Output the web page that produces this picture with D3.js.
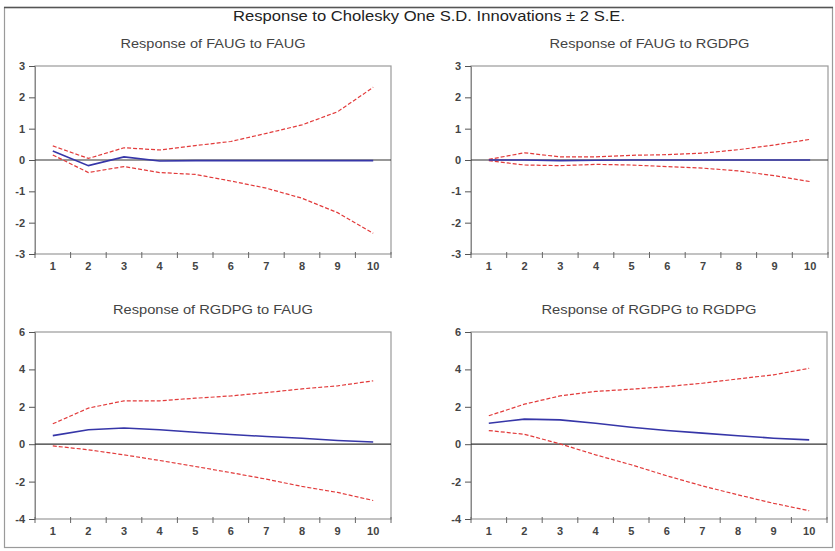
<!DOCTYPE html>
<html>
<head>
<meta charset="utf-8">
<script src="https://cdn.jsdelivr.net/npm/d3@7"></script>
<style>
  body { margin: 0; background: #fff; }
  text { font-family: "Liberation Sans", Arial, sans-serif; }
</style>
</head>
<body>
<div id="chart"></div>
<script>
var periods = [1, 2, 3, 4, 5, 6, 7, 8, 9, 10];
var mainTitle = "Response to Cholesky One S.D. Innovations \u00b1 2 S.E.";

// response of FAUG to FAUG
var faugFaug = [0.29, -0.18, 0.10, -0.03, -0.02, -0.02, -0.02, -0.02, -0.02, -0.02];
var faugFaugUp = [0.45, 0.05, 0.39, 0.32, 0.46, 0.59, 0.85, 1.12, 1.54, 2.32];
var faugFaugLo = [0.16, -0.40, -0.21, -0.40, -0.46, -0.67, -0.90, -1.22, -1.68, -2.34];

// response of FAUG to RGDPG
var faugRgdp = [0.0, 0.0, -0.02, -0.01, 0.0, 0.0, 0.0, 0.0, 0.0, 0.0];
var faugRgdpUp = [0.02, 0.23, 0.10, 0.10, 0.15, 0.17, 0.22, 0.33, 0.48, 0.66];
var faugRgdpLo = [-0.02, -0.16, -0.18, -0.14, -0.16, -0.21, -0.26, -0.35, -0.50, -0.69];

// response of RGDPG to FAUG
var rgdpFaug = [0.46, 0.77, 0.87, 0.77, 0.64, 0.52, 0.41, 0.32, 0.20, 0.12];
var rgdpFaugUp = [1.09, 1.93, 2.32, 2.32, 2.46, 2.58, 2.76, 2.96, 3.12, 3.39];
var rgdpFaugLo = [-0.09, -0.30, -0.57, -0.87, -1.19, -1.52, -1.87, -2.26, -2.58, -3.01];

// response of RGDPG to RGDPG
var rgdpRgdp = [1.12, 1.34, 1.30, 1.12, 0.91, 0.73, 0.59, 0.45, 0.32, 0.23];
var rgdpRgdpUp = [1.52, 2.14, 2.58, 2.82, 2.94, 3.08, 3.26, 3.49, 3.71, 4.06];
var rgdpRgdpLo = [0.73, 0.53, 0.02, -0.57, -1.10, -1.69, -2.23, -2.71, -3.16, -3.56];

var topTicks = [-3, -2, -1, 0, 1, 2, 3];
var bottomTicks = [-4, -2, 0, 2, 4, 6];

var panels = [
  {title: "Response of FAUG to FAUG", mid: faugFaug, up: faugFaugUp, lo: faugFaugLo, ticks: topTicks,
   x0: 35, x1: 391, y0: 66, y1: 254, tw: 185},
  {title: "Response of FAUG to RGDPG", mid: faugRgdp, up: faugRgdpUp, lo: faugRgdpLo, ticks: topTicks,
   x0: 471, x1: 828, y0: 66, y1: 254, tw: 200},
  {title: "Response of RGDPG to FAUG", mid: rgdpFaug, up: rgdpFaugUp, lo: rgdpFaugLo, ticks: bottomTicks,
   x0: 35, x1: 391, y0: 332, y1: 519, tw: 200},
  {title: "Response of RGDPG to RGDPG", mid: rgdpRgdp, up: rgdpRgdpUp, lo: rgdpRgdpLo, ticks: bottomTicks,
   x0: 471, x1: 827, y0: 332, y1: 519, tw: 215}
];

var W = 835, H = 551;
var svg = d3.select("#chart").append("svg")
  .attr("width", W).attr("height", H);

// outer frame
svg.append("rect")
  .attr("x", 4.5).attr("y", 7.5)
  .attr("width", 828).attr("height", 540)
  .attr("fill", "none").attr("stroke", "#9a9a9a").attr("stroke-width", 1.2);
svg.append("line")
  .attr("x1", 4).attr("x2", 833).attr("y1", 7.5).attr("y2", 7.5)
  .attr("stroke", "#555").attr("stroke-width", 1.5);

svg.append("text")
  .attr("x", 429).attr("y", 21)
  .attr("text-anchor", "middle")
  .attr("font-size", 14)
  .attr("textLength", 392).attr("lengthAdjust", "spacingAndGlyphs")
  .attr("fill", "#222")
  .text(mainTitle);

panels.forEach(function(p) {
  var g = svg.append("g");
  var band = d3.scaleBand().domain(periods).range([p.x0, p.x1]);
  var x = function(d) { return band(d) + band.bandwidth() / 2; };
  var y = d3.scaleLinear()
    .domain([p.ticks[0], p.ticks[p.ticks.length - 1]])
    .range([p.y1, p.y0]);

  g.append("text")
    .attr("x", (p.x0 + p.x1) / 2).attr("y", p.y0 - 18)
    .attr("text-anchor", "middle")
    .attr("font-size", 13.5)
    .attr("textLength", p.tw).attr("lengthAdjust", "spacingAndGlyphs")
    .attr("fill", "#444")
    .text(p.title);

  // plot frame
  g.append("rect")
    .attr("x", p.x0).attr("y", p.y0)
    .attr("width", p.x1 - p.x0).attr("height", p.y1 - p.y0)
    .attr("fill", "none").attr("stroke", "#9a9a9a").attr("stroke-width", 1.2);

  // y axis
  var ya = g.append("g")
    .attr("transform", "translate(" + p.x0 + ",0)")
    .call(d3.axisLeft(y).tickValues(p.ticks).tickFormat(function(d) { return String(d); })
      .tickSize(6).tickPadding(4));
  ya.select(".domain").attr("stroke", "#888");
  ya.selectAll(".tick line").attr("stroke", "#555");
  ya.selectAll(".tick text")
    .attr("font-size", 11).attr("font-weight", "bold").attr("fill", "#444")
    .attr("font-family", "Liberation Sans, Arial, sans-serif");

  // x axis, ticks at band edges
  var edges = periods.map(function(d) { return band(d); }).concat([p.x1]);
  var xa = g.append("g").attr("transform", "translate(0," + p.y1 + ")");
  xa.selectAll("line.xt").data(edges).enter().append("line")
    .attr("x1", function(d) { return d; }).attr("x2", function(d) { return d; })
    .attr("y1", -2).attr("y2", 4)
    .attr("stroke", "#666");
  xa.selectAll("text").data(periods).enter().append("text")
    .attr("x", x).attr("y", 16)
    .attr("text-anchor", "middle")
    .attr("font-size", 11).attr("font-weight", "bold").attr("fill", "#444")
    .text(function(d) { return d; });

  // zero line
  g.append("line")
    .attr("x1", p.x0).attr("x2", p.x1)
    .attr("y1", y(0)).attr("y2", y(0))
    .attr("stroke", "#333").attr("stroke-width", 1.2);

  var line = d3.line()
    .x(function(d, i) { return x(periods[i]); })
    .y(function(d) { return y(d); });

  [p.up, p.lo].forEach(function(s) {
    g.append("path").datum(s)
      .attr("d", line)
      .attr("fill", "none")
      .attr("stroke", "#e23b3b")
      .attr("stroke-width", 1.2)
      .attr("stroke-dasharray", "4,2");
  });

  g.append("path").datum(p.mid)
    .attr("d", line)
    .attr("fill", "none")
    .attr("stroke", "#3636a8")
    .attr("stroke-width", 1.6);
});
</script>
</body>
</html>
